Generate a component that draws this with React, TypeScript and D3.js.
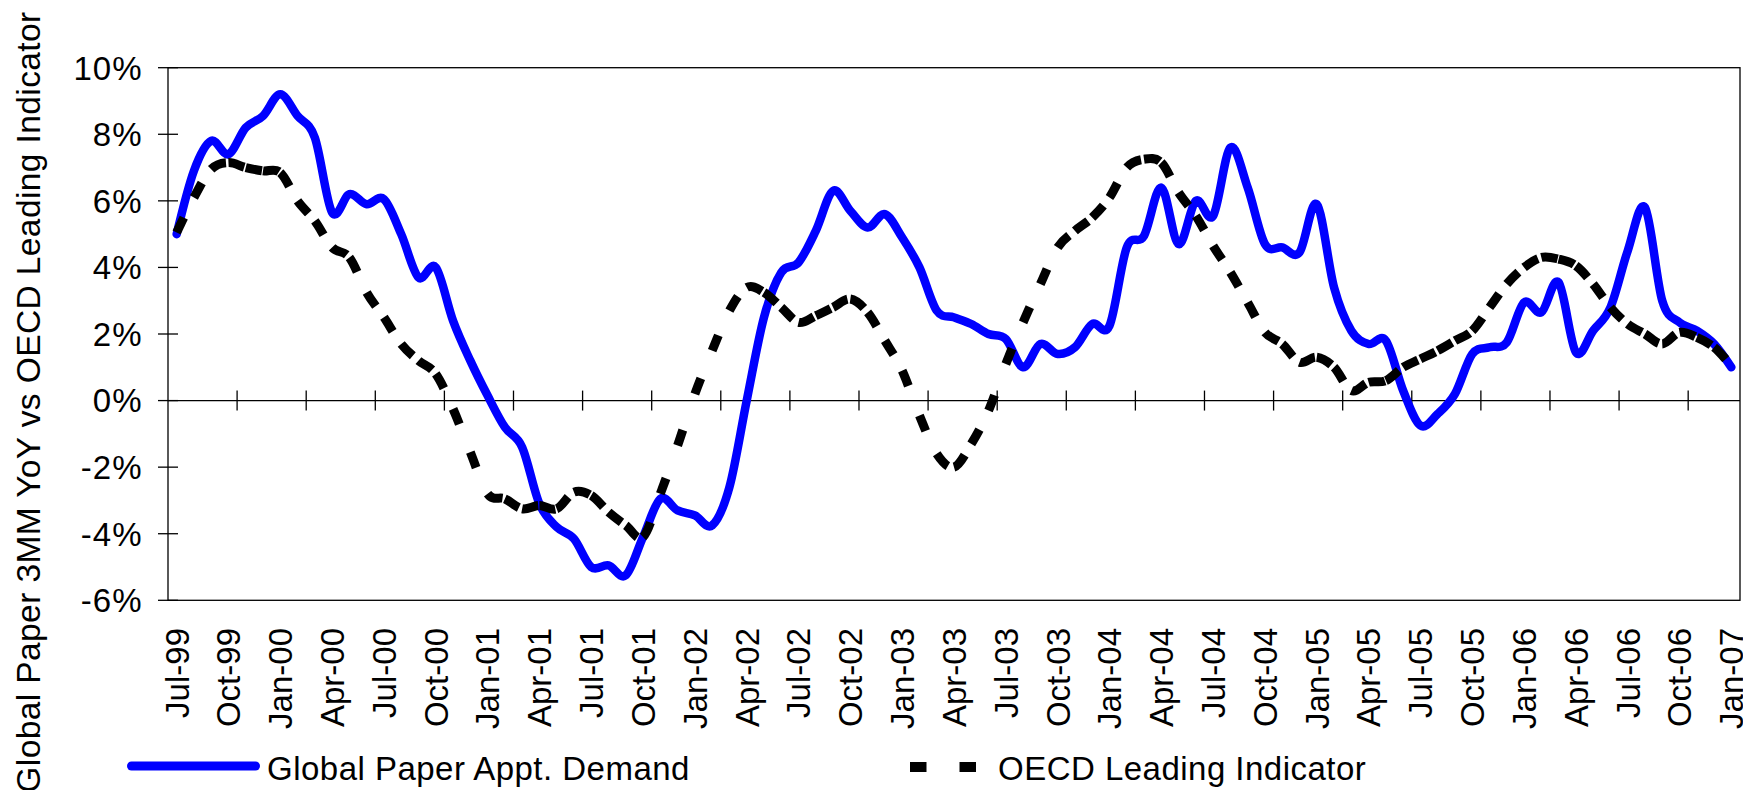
// App.tsx
import React, { useEffect, useRef } from "react";
import * as d3 from "d3";

// monthly categories, Jul-99 .. Jan-07
const months = d3.timeMonth.range(new Date(1999, 6, 1), new Date(2007, 1, 1));
const categories = months.map(d3.timeFormat("%b-%y"));

// Global Paper Appt. Demand, 3MM YoY (%)
const paperDemand = [
  5.0, 6.9, 7.8, 7.4, 8.2, 8.55, 9.2, 8.55, 7.9, 5.65, 6.2, 5.9,
  6.05, 5.0, 3.7, 4.0, 2.4, 1.2, 0.15, -0.8, -1.4, -3.1, -3.8, -4.15,
  -5.0, -4.95, -5.25, -4.1, -2.95, -3.3, -3.45, -3.75, -2.6, 0.0, 2.5, 3.85,
  4.15, 5.1, 6.3, 5.7, 5.2, 5.6, 4.9, 4.0, 2.7, 2.5, 2.3, 2.0,
  1.85, 1.0, 1.7, 1.4, 1.6, 2.3, 2.25, 4.6, 4.95, 6.4, 4.7, 6.0,
  5.55, 7.6, 6.4, 4.7, 4.6, 4.45, 5.9, 3.4, 2.1, 1.7, 1.8, 0.3,
  -0.75, -0.4, 0.2, 1.4, 1.6, 1.75, 2.95, 2.65, 3.55, 1.45, 2.1, 2.8,
  4.5, 5.8, 3.0, 2.35, 2.1, 1.7, 1.0,
];

// OECD Leading Indicator (%)
const oecdLeading = [
  5.05, 6.1, 6.95, 7.15, 7.0, 6.9, 6.85, 6.0, 5.4, 4.6, 4.3, 3.25,
  2.5, 1.7, 1.2, 0.8, -0.25, -1.55, -2.8, -2.95, -3.25, -3.15, -3.25, -2.75,
  -2.85, -3.35, -3.75, -4.1, -2.8, -1.35, 0.2, 1.5, 2.7, 3.4, 3.25, 2.8,
  2.35, 2.55, 2.8, 3.05, 2.65, 1.8, 0.9, -0.45, -1.6, -2.0, -1.3, -0.3,
  1.1, 2.35, 3.5, 4.6, 5.1, 5.5, 6.1, 7.0, 7.25, 7.15, 6.25, 5.55,
  4.65, 3.85, 2.95, 2.05, 1.7, 1.15, 1.3, 1.0, 0.3, 0.55, 0.6, 1.0,
  1.25, 1.5, 1.8, 2.1, 2.8, 3.5, 4.0, 4.3, 4.25, 4.05, 3.5, 2.8,
  2.3, 2.0, 1.7, 2.05, 1.9, 1.6, 1.05,
];

const yTicks = [-6, -4, -2, 0, 2, 4, 6, 8, 10];

const W = 1743;
const H = 790;
const plot = { left: 168, right: 1740, top: 67.7, bottom: 600.3 };
const font = "'Liberation Sans', Arial, Helvetica, sans-serif";

const App = () => {
  const ref = useRef<SVGSVGElement>(null);

  useEffect(() => {
    const svg = d3.select(ref.current);
    svg.selectAll("*").remove();

    const x = d3.scalePoint<string>()
      .domain(categories)
      .range([plot.left, plot.right])
      .padding(0.5);
    const y = d3.scaleLinear().domain([-6, 10]).range([plot.bottom, plot.top]);
    const step = x.step();

    // plot frame
    svg.append("rect")
      .attr("x", plot.left)
      .attr("y", plot.top)
      .attr("width", plot.right - plot.left)
      .attr("height", plot.bottom - plot.top)
      .attr("fill", "none")
      .attr("stroke", "#000")
      .attr("stroke-width", 1.3);

    // value axis ticks + labels
    yTicks.forEach((t) => {
      svg.append("line")
        .attr("x1", plot.left - 10).attr("x2", plot.left + 10)
        .attr("y1", y(t)).attr("y2", y(t))
        .attr("stroke", "#000").attr("stroke-width", 1.3);
      svg.append("text")
        .attr("x", 142.5)
        .attr("y", y(t))
        .attr("dy", "0.36em")
        .attr("text-anchor", "end")
        .style("font-family", font)
        .style("font-size", "33px")
        .style("letter-spacing", "1px")
        .text(`${t}%`);
    });

    // category axis crosses at 0
    const y0 = y(0);
    svg.append("line")
      .attr("x1", plot.left).attr("x2", plot.right)
      .attr("y1", y0).attr("y2", y0)
      .attr("stroke", "#000").attr("stroke-width", 1.3);
    for (let k = 4; k < categories.length; k += 4) {
      const xb = plot.left + k * step;
      svg.append("line")
        .attr("x1", xb).attr("x2", xb)
        .attr("y1", y0 - 10).attr("y2", y0 + 10)
        .attr("stroke", "#000").attr("stroke-width", 1.3);
    }

    // category labels, every 3rd month
    categories.forEach((c, i) => {
      if (i % 3 !== 0) return;
      svg.append("text")
        .attr("transform", `translate(${x(c)},628) rotate(-90)`)
        .attr("dy", "0.36em")
        .attr("text-anchor", "end")
        .style("font-family", font)
        .style("font-size", "33px")
        .text(c);
    });

    // y title
    svg.append("text")
      .attr("transform", "translate(40,402) rotate(-90)")
      .attr("text-anchor", "middle")
      .style("font-family", font)
      .style("font-size", "33.5px")
      .style("letter-spacing", "0.4px")
      .text("Global Paper 3MM YoY vs OECD Leading Indicator");

    // blue series, smooth
    const line = d3.line<number>()
      .x((_, i) => x(categories[i]) as number)
      .y((d) => y(d))
      .curve(d3.curveCardinal.tension(0));
    svg.append("path")
      .attr("d", line(paperDemand))
      .attr("fill", "none")
      .attr("stroke", "#0000FF")
      .attr("stroke-width", 8.5)
      .attr("stroke-linejoin", "round")
      .attr("stroke-linecap", "round");

    // dashed series: one smooth piece per month, dash restarts each piece
    const pts = oecdLeading.map((v, i) => [x(categories[i]) as number, y(v)]);
    const n = pts.length;
    for (let i = 0; i < n - 1; i++) {
      const p0 = pts[Math.max(i - 1, 0)];
      const p1 = pts[i];
      const p2 = pts[i + 1];
      const p3 = pts[Math.min(i + 2, n - 1)];
      const p = d3.path();
      p.moveTo(p1[0], p1[1]);
      p.bezierCurveTo(
        p1[0] + (p2[0] - p0[0]) / 6, p1[1] + (p2[1] - p0[1]) / 6,
        p2[0] - (p3[0] - p1[0]) / 6, p2[1] - (p3[1] - p1[1]) / 6,
        p2[0], p2[1]
      );
      svg.append("path")
        .attr("d", p.toString())
        .attr("fill", "none")
        .attr("stroke", "#000")
        .attr("stroke-width", 9)
        .attr("stroke-dasharray", "16.5 40")
        .attr("stroke-linecap", "butt");
    }

    // legend
    svg.append("line")
      .attr("x1", 131.5).attr("x2", 255.5)
      .attr("y1", 766).attr("y2", 766)
      .attr("stroke", "#0000FF")
      .attr("stroke-width", 9)
      .attr("stroke-linecap", "round");
    svg.append("text")
      .attr("x", 267).attr("y", 780)
      .style("font-family", font)
      .style("font-size", "33px")
      .style("letter-spacing", "0.48px")
      .text("Global Paper Appt. Demand");

    svg.append("line")
      .attr("x1", 910).attr("x2", 992)
      .attr("y1", 767).attr("y2", 767)
      .attr("stroke", "#000")
      .attr("stroke-width", 10)
      .attr("stroke-dasharray", "16.5 33");
    svg.append("text")
      .attr("x", 998).attr("y", 780)
      .style("font-family", font)
      .style("font-size", "33px")
      .style("letter-spacing", "0.48px")
      .text("OECD Leading Indicator");
  }, []);

  return (
    <svg
      ref={ref}
      width={W}
      height={H}
      style={{ position: "absolute", left: 0, top: 0, background: "#fff" }}
    />
  );
};

export default App;
